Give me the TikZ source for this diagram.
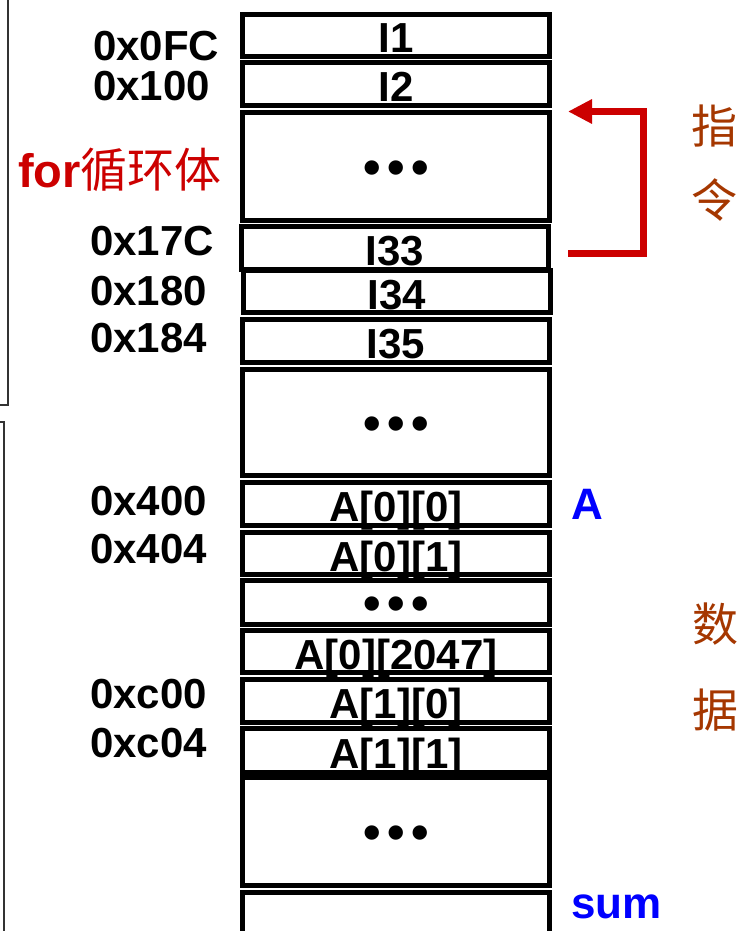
\documentclass[tikz,border=0pt]{standalone}
\usepackage{fontspec}
\setmainfont{Liberation Sans}
\newfontfamily\cjk{Noto Sans CJK SC}
\usetikzlibrary{arrows.meta}
\definecolor{arrred}{RGB}{204,0,0}
\definecolor{cnbrown}{RGB}{165,55,0}
\definecolor{lblblue}{RGB}{0,0,255}
\newcommand{\mydots}{•\hspace{6.5pt}•\hspace{6.5pt}•}
\begin{document}
\begin{tikzpicture}[x=1pt,y=-1pt,
  cell/.style={draw=black, line width=5pt, minimum width=307.5pt, inner sep=0pt,
    text height=35pt, text depth=0pt, font=\fontsize{42}{50}\selectfont\bfseries},
  dotcell/.style={draw=black, line width=5pt, minimum width=307.5pt, inner sep=0pt,
    text height=35.8pt, text depth=0pt, font=\fontsize{50}{54}\selectfont\bfseries},
  addr/.style={anchor=base west, inner sep=0pt, font=\fontsize{42}{50}\selectfont\bfseries},
  varlbl/.style={anchor=base west, inner sep=0pt, text=lblblue, font=\fontsize{44}{50}\selectfont\bfseries},
  cnlbl/.style={inner sep=0pt, text=cnbrown, font=\fontsize{46}{50}\selectfont\cjk},
  frame/.style={draw=black!80, line width=2pt},
  loop/.style={draw=arrred, line width=7pt, -{Triangle[length=24pt,width=23pt]}}
]
\clip (0,0) rectangle (742,931);
\fill[white] (0,0) rectangle (742,931);

% memory cells
\node[cell, minimum height=42pt] (i1) at (396,35.5) {I1};
\node[cell, minimum height=43pt] (i2) at (396,84) {I2};
\node[dotcell, minimum height=108pt] (d1) at (396,166.5) {\mydots};
\node[cell, minimum height=43pt] (i33) at (395,248) {I33};
\node[cell, minimum height=42pt] (i34) at (397,291.5) {I34};
\node[cell, minimum height=43pt] (i35) at (396,341) {I35};
\node[dotcell, minimum height=106pt] (d2) at (396,422.5) {\mydots};
\node[cell, minimum height=43pt] (a00) at (396,504) {A[0][0]};
\node[cell, minimum height=42pt] (a01) at (396,553.5) {A[0][1]};
\node[dotcell, minimum height=44pt] (d3) at (396,602.5) {\mydots};
\node[cell, minimum height=42pt] (a02047) at (396,651.5) {A[0][2047]};
\node[cell, minimum height=43pt] (a10) at (396,701) {A[1][0]};
\node[cell, minimum height=44pt] (a11) at (396,750.5) {A[1][1]};
\node[dotcell, minimum height=108pt] (d4) at (396,831.5) {\mydots};
\node[dotcell, minimum height=100pt] (sumcell) at (396,942.5) {};

% addresses
\node[addr] (l0fc) at (93,61) {0x0FC};
\node[addr] (l100) at (93,101) {0x100};
\node[addr, text=arrred, font=\fontsize{47}{50}\selectfont] (lfor) at (18,187) {{\bfseries for}{\cjk 循环体}};
\node[addr] (l17c) at (90,255) {0x17C};
\node[addr] (l180) at (90,305) {0x180};
\node[addr] (l184) at (90,352) {0x184};
\node[addr] (l400) at (90,515) {0x400};
\node[addr] (l404) at (90,563) {0x404};
\node[addr] (lc00) at (90,708) {0xc00};
\node[addr] (lc04) at (90,757) {0xc04};

% variable names
\node[varlbl] (lA) at (571,519) {A};
\node[varlbl] (lsum) at (571,918) {sum};

% side captions
\node[cnlbl] (c1) at (714,126) {指};
\node[cnlbl] (c2) at (714,200) {令};
\node[cnlbl] (c3) at (715,624) {数};
\node[cnlbl] (c4) at (715,710) {据};

% loop arrow
\coordinate (arrS) at (568,253);
\coordinate (arrE) at (568,111.5);
\draw[loop] (arrS) -- (643.5,253) |- (arrE);

% left frames
\draw[frame] (-5,405) -- (8,405) -- (8,-5);
\draw[frame] (-5,422) -- (4,422) -- (4,940);
\end{tikzpicture}
\end{document}
